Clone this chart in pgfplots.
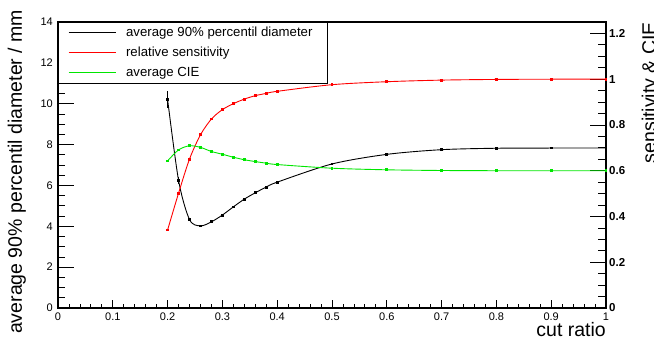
\documentclass[border=0pt]{standalone}
\usepackage{fontspec}
\setmainfont{Liberation Sans}
\usepackage{pgfplots}
\pgfplotsset{compat=1.18}
\pgfplotstableread{
x y e
0.20 10.21 0.42
0.22 6.25 0.18
0.24 4.33 0
0.26 4.02 0
0.28 4.22 0
0.30 4.55 0
0.32 4.95 0
0.34 5.33 0
0.36 5.64 0
0.38 5.92 0
0.40 6.16 0
0.50 7.05 0
0.60 7.52 0
0.70 7.75 0
0.80 7.82 0
0.90 7.83 0
1.00 7.83 0
}\diameter
\pgfplotstableread{
x y
0.20 0.341
0.22 0.502
0.24 0.651
0.26 0.757
0.28 0.826
0.30 0.867
0.32 0.893
0.34 0.913
0.36 0.928
0.38 0.938
0.40 0.947
0.50 0.976
0.60 0.989
0.70 0.996
0.80 0.999
0.90 1.000
1.00 1.000
}\sensitivity
\pgfplotstableread{
x y
0.20 0.643
0.22 0.691
0.24 0.709
0.26 0.702
0.28 0.684
0.30 0.672
0.32 0.659
0.34 0.648
0.36 0.640
0.38 0.633
0.40 0.627
0.50 0.611
0.60 0.604
0.70 0.601
0.80 0.600
0.90 0.600
1.00 0.600
}\cie
\definecolor{rootgreen}{RGB}{0,230,0}
\begin{document}
\begin{tikzpicture}
\pgfplotsset{
  base/.style={
    scale only axis, width=548pt, height=286pt,
    at={(58pt,33pt)}, anchor=south west,
    xmin=0, xmax=1, clip=false,
    /pgf/number format/assume math mode=true,
    tick align=inside,
    x axis line style={-}, y axis line style={-},
  }
}
% left y axis with the box and diameter curve
\begin{axis}[base,
  ymin=0, ymax=14,
  axis line style={line width=1.2pt},
  xtick=\empty,
  ytick={0,2,...,14}, minor ytick={0.5,1,...,14},
  ytick pos=left,
  major tick length=15.7pt, minor tick length=7.3pt,
  major tick style={black, line width=0.8pt}, minor tick style={black, line width=0.8pt},
  yticklabel style={font=\fontsize{11}{12}\selectfont, inner sep=0pt, xshift=-5pt},
]
\addplot[black, line width=0.9pt, smooth, mark=square*, mark size=0.9pt,
  error bars/.cd, y dir=both, y explicit, error bar style={line width=0.9pt, black}, error mark=none]
  table[x=x, y=y, y error=e] {\diameter};
\node[rotate=90, anchor=base, inner sep=0pt, font=\fontsize{19.5}{20}\selectfont]
  at (axis description cs:-0.0657,0.476) {average 90\% percentil diameter / mm};
\node[anchor=base east, inner sep=0pt, font=\fontsize{19.5}{20}\selectfont]
  at (axis description cs:1,-0.101) {cut ratio};
\end{axis}
% bottom x axis
\begin{axis}[base,
  ymin=0, ymax=14,
  axis y line=none, axis x line*=bottom,
  axis line style={line width=1.2pt},
  xtick={0,0.1,...,1}, minor xtick={0.02,0.04,...,1},
  major tick length=8pt, minor tick length=4pt,
  major tick style={black, line width=0.8pt}, minor tick style={black, line width=0.8pt},
  xticklabel style={font=\fontsize{11}{12}\selectfont, inner sep=0pt, yshift=-5pt},
]
\end{axis}
% right y axis
\begin{axis}[base,
  ymin=0, ymax=1.25,
  axis x line=none, axis y line*=right,
  axis line style={line width=1.2pt},
  ytick={0,0.2,...,1.2}, minor ytick={0.05,0.1,...,1.25},
  major tick length=16.5pt, minor tick length=8pt,
  major tick style={black, line width=0.8pt}, minor tick style={black, line width=0.8pt},
  yticklabel style={font=\bfseries\fontsize{11.5}{12}\selectfont, inner sep=0pt, xshift=3pt},
  legend style={at={(0,1)}, anchor=north west, fill=white,
    inner xsep=10pt, inner ysep=4pt, row sep=7pt, column sep=10pt,
    font=\fontsize{13.2}{14}\selectfont,
    nodes={inner sep=0pt, text height=10pt, text depth=3pt}},
  legend cell align=left,
]
\addlegendimage{legend image code/.code={\draw[black, line width=0.9pt] (0pt,0pt) -- (47pt,0pt);}}
\addlegendentry{average 90\% percentil diameter\hspace*{5pt}}
\addlegendimage{legend image code/.code={\draw[red, line width=0.9pt] (0pt,0pt) -- (47pt,0pt);}}
\addlegendentry{relative sensitivity}
\addlegendimage{legend image code/.code={\draw[rootgreen, line width=0.9pt] (0pt,0pt) -- (47pt,0pt);}}
\addlegendentry{average CIE}
\addplot[red, line width=0.9pt, smooth, mark=square*, mark size=0.9pt, forget plot] table[x=x, y=y] {\sensitivity};
\addplot[rootgreen, line width=0.9pt, smooth, mark=square*, mark size=0.9pt, forget plot] table[x=x, y=y] {\cie};
\node[rotate=90, anchor=base east, inner sep=0pt, font=\fontsize{19.5}{20}\selectfont]
  at (axis description cs:1.0912,1) {sensitivity \& CIE};
\end{axis}
\pgfresetboundingbox
\path (0pt,0pt) rectangle (654pt,341pt);
\end{tikzpicture}
\end{document}
